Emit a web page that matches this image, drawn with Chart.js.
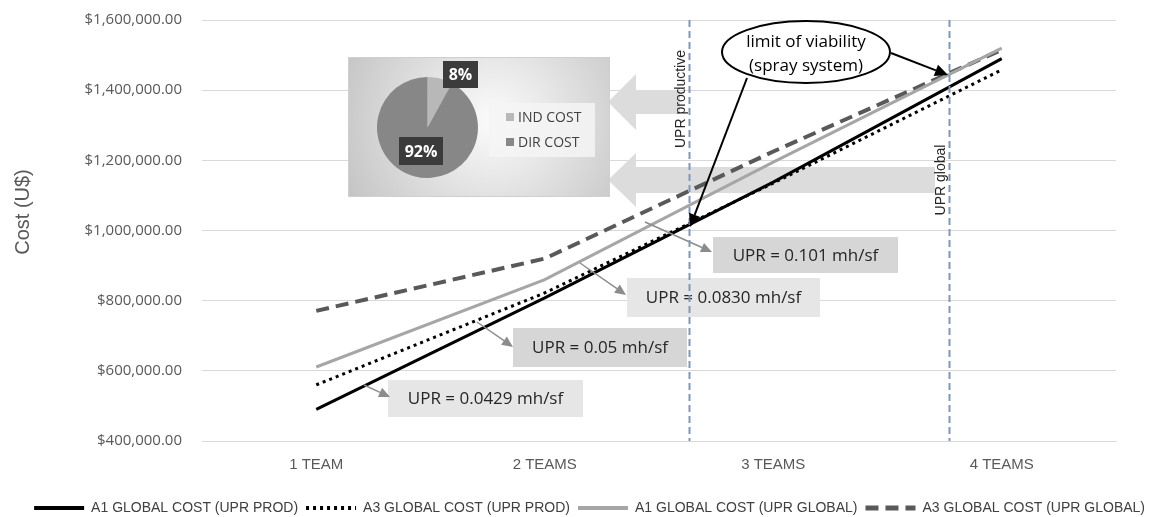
<!DOCTYPE html>
<html>
<head>
<meta charset="utf-8">
<script src="https://cdn.jsdelivr.net/npm/chart.js@4.4.1/dist/chart.umd.min.js"></script>
<style>
    html, body { margin: 0; padding: 0; background: #fff; }
    #wrap { position: relative; width: 1153px; height: 517px; }
    #mainChart { position: absolute; left: 0; top: 0; }
    #pieChart { position: absolute; left: 348px; top: 57px; }
</style>
</head>
<body>
<div id="wrap">
    <canvas id="mainChart" width="1153" height="517"></canvas>
    <canvas id="pieChart" width="262" height="140"></canvas>
</div>
<script>
// ============================================
// Data
// ============================================

const categories = ['1 TEAM', '2 TEAMS', '3 TEAMS', '4 TEAMS'];
const a1ProdCost = [490000, 808000, 1138000, 1490000];
const a3ProdCost = [560000, 822000, 1135000, 1458000];
const a1GlobalCost = [611000, 860000, 1195000, 1520000];
const a3GlobalCost = [771000, 920000, 1225000, 1515000];
const seriesNames = [
    'A1 GLOBAL COST (UPR PROD)',
    'A3 GLOBAL COST (UPR PROD)',
    'A1 GLOBAL COST (UPR GLOBAL)',
    'A3 GLOBAL COST (UPR GLOBAL)'
];
const yTicks = [400000, 600000, 800000, 1000000, 1200000, 1400000, 1600000];
const yTitle = 'Cost (U$)';

// vertical reference lines, as positions on the category axis
const uprLinePositions = [1.63, 2.77];
const uprLineNames = ['UPR productive', 'UPR global'];
const uprLabels = ['UPR = 0.0429 mh/sf', 'UPR = 0.05 mh/sf', 'UPR = 0.0830 mh/sf', 'UPR = 0.101 mh/sf'];

// inset pie
const pieLabels = ['IND COST', 'DIR COST'];
const pieValues = [8, 92];

// ============================================
// Drawing helpers
// ============================================

function drawArrow(ctx, x1, y1, x2, y2, color, width, headLen, headHalf) {
    const ang = Math.atan2(y2 - y1, x2 - x1);
    const bx = x2 - Math.cos(ang) * headLen;
    const by = y2 - Math.sin(ang) * headLen;
    ctx.save();
    ctx.strokeStyle = color;
    ctx.fillStyle = color;
    ctx.lineWidth = width;
    ctx.setLineDash([]);
    ctx.beginPath();
    ctx.moveTo(x1, y1);
    ctx.lineTo(bx, by);
    ctx.stroke();
    ctx.beginPath();
    ctx.moveTo(x2, y2);
    ctx.lineTo(bx + Math.sin(ang) * headHalf, by - Math.cos(ang) * headHalf);
    ctx.lineTo(bx - Math.sin(ang) * headHalf, by + Math.cos(ang) * headHalf);
    ctx.closePath();
    ctx.fill();
    ctx.restore();
}

function drawBlockArrow(ctx, tipX, cy, headLen, headHalf, shaftHalf, endX) {
    ctx.save();
    ctx.fillStyle = '#dcdcdc';
    ctx.beginPath();
    ctx.moveTo(tipX, cy);
    ctx.lineTo(tipX + headLen, cy - headHalf);
    ctx.lineTo(tipX + headLen, cy - shaftHalf);
    ctx.lineTo(endX, cy - shaftHalf);
    ctx.lineTo(endX, cy + shaftHalf);
    ctx.lineTo(tipX + headLen, cy + shaftHalf);
    ctx.lineTo(tipX + headLen, cy + headHalf);
    ctx.closePath();
    ctx.fill();
    ctx.restore();
}

function drawLabelBox(ctx, text, x, y, w, h, fill) {
    ctx.save();
    ctx.fillStyle = fill;
    ctx.fillRect(x, y, w, h);
    ctx.fillStyle = '#262626';
    ctx.font = '17px "Open Sans"';
    ctx.textAlign = 'center';
    ctx.textBaseline = 'middle';
    ctx.fillText(text, x + w / 2, y + h / 2 + 1);
    ctx.restore();
}

// ============================================
// Annotation plugin (main chart)
// ============================================

const annotationPlugin = {
    id: 'annotations',
    beforeDatasetsDraw(chart) {
        const ctx = chart.ctx;
        drawBlockArrow(ctx, 608, 102, 28, 28, 12, 680);
        drawBlockArrow(ctx, 608, 180, 28, 27, 13, 935);

        // axis title
        ctx.save();
        ctx.fillStyle = '#595959';
        ctx.font = '20px "Liberation Sans"';
        ctx.textAlign = 'center';
        ctx.textBaseline = 'middle';
        ctx.translate(23, 212);
        ctx.rotate(-Math.PI / 2);
        ctx.fillText(yTitle, 0, 0);
        ctx.restore();
    },
    afterDatasetsDraw(chart) {
        const ctx = chart.ctx;
        const xScale = chart.scales.x;
        const area = chart.chartArea;

        // UPR label boxes and their pointers
        const boxes = [
            { x: 388, y: 380, w: 195, h: 37, fill: '#e6e6e6', from: [364, 385], to: [390, 397] },
            { x: 513, y: 328, w: 174, h: 39, fill: '#d6d6d6', from: [477, 322], to: [513, 347] },
            { x: 627, y: 278, w: 193, h: 39, fill: '#e6e6e6', from: [580, 263], to: [626, 295] },
            { x: 713, y: 237, w: 185, h: 36, fill: '#d6d6d6', from: [645, 222], to: [712, 252] }
        ];
        boxes.forEach((b, i) => {
            drawLabelBox(ctx, uprLabels[i], b.x, b.y, b.w, b.h, b.fill);
            drawArrow(ctx, b.from[0], b.from[1], b.to[0], b.to[1], '#8c8c8c', 1.5, 11, 5);
        });

        // vertical UPR lines
        uprLinePositions.forEach((pos, i) => {
            const px = Math.round(xScale.getPixelForValue(pos)) + 0.5;
            ctx.save();
            ctx.strokeStyle = '#7f97bb';
            ctx.lineWidth = 2;
            ctx.setLineDash([7, 4]);
            ctx.beginPath();
            ctx.moveTo(px, area.top);
            ctx.lineTo(px, area.bottom);
            ctx.stroke();
            ctx.restore();

            ctx.save();
            ctx.fillStyle = '#262626';
            ctx.font = '14px "Liberation Sans"';
            ctx.textAlign = 'center';
            ctx.textBaseline = 'middle';
            ctx.translate(px - 8, i === 0 ? 99 : 180);
            ctx.rotate(-Math.PI / 2);
            ctx.fillText(uprLineNames[i], 0, 0);
            ctx.restore();
        });

        // "limit of viability" callout
        ctx.save();
        ctx.beginPath();
        ctx.ellipse(806, 52, 84, 31, 0, 0, Math.PI * 2);
        ctx.fillStyle = '#ffffff';
        ctx.fill();
        ctx.lineWidth = 2;
        ctx.strokeStyle = '#000';
        ctx.stroke();
        ctx.fillStyle = '#000';
        ctx.font = '17px "Open Sans"';
        ctx.textAlign = 'center';
        ctx.textBaseline = 'middle';
        ctx.fillText('limit of viability', 806, 42);
        ctx.fillText('(spray system)', 806, 66);
        ctx.restore();
        drawArrow(ctx, 747, 78, 690, 227, '#000', 2, 13, 6);
        drawArrow(ctx, 891, 53, 948, 75, '#000', 2, 13, 6);
    }
};

// ============================================
// Main line chart
// ============================================

function formatMoney(value) {
    return '$' + value.toLocaleString('en-US', { minimumFractionDigits: 2, maximumFractionDigits: 2 });
}

new Chart(document.getElementById('mainChart').getContext('2d'), {
    type: 'line',
    data: {
        labels: categories,
        datasets: [{
            label: seriesNames[0],
            data: a1ProdCost,
            borderColor: '#000000',
            backgroundColor: '#000000',
            borderWidth: 3
        }, {
            label: seriesNames[1],
            data: a3ProdCost,
            borderColor: '#000000',
            backgroundColor: '#000000',
            borderWidth: 3,
            borderDash: [3, 4]
        }, {
            label: seriesNames[2],
            data: a1GlobalCost,
            borderColor: '#a6a6a6',
            backgroundColor: '#a6a6a6',
            borderWidth: 3
        }, {
            label: seriesNames[3],
            data: a3GlobalCost,
            borderColor: '#595959',
            backgroundColor: '#595959',
            borderWidth: 4,
            borderDash: [13, 7]
        }]
    },
    options: {
        responsive: false,
        animation: false,
        devicePixelRatio: 1,
        elements: {
            point: { radius: 0, hoverRadius: 0 },
            line: { tension: 0, fill: false }
        },
        layout: { padding: { top: 20, right: 0, left: 0, bottom: -8 } },
        scales: {
            x: {
                offset: true,
                grid: { display: false },
                border: { display: true, color: '#d9d9d9' },
                ticks: {
                    color: '#595959',
                    font: { family: '"Liberation Sans"', size: 15 },
                    padding: 7
                },
                afterFit(scale) { scale.height = 52; }
            },
            y: {
                min: 400000,
                max: 1600000,
                afterBuildTicks(scale) { scale.ticks = yTicks.map(v => ({ value: v })); },
                grid: { color: '#d9d9d9', drawTicks: true, tickLength: 10, tickColor: 'rgba(0,0,0,0)' },
                border: { display: false },
                ticks: {
                    color: '#595959',
                    padding: 10,
                    font: { family: '"Open Sans"', size: 15 },
                    callback: function(value) { return formatMoney(value); }
                },
                afterFit(scale) { scale.width = 202; }
            },
            // empty right gutter so the plot ends where the reference does
            gutter: {
                position: 'right',
                display: true,
                grid: { display: false },
                border: { display: false },
                ticks: { display: false },
                afterFit(scale) { scale.width = 37; }
            }
        },
        plugins: {
            legend: {
                display: true,
                position: 'bottom',
                align: 'end',
                labels: {
                    usePointStyle: true,
                    pointStyleWidth: 50,
                    padding: 8,
                    font: { family: '"Liberation Sans"', size: 14 },
                    generateLabels(chart) {
                        return chart.data.datasets.map((ds, i) => ({
                            text: ds.label,
                            fillStyle: ds.borderColor,
                            strokeStyle: ds.borderColor,
                            lineWidth: ds.borderWidth + 1,
                            lineDash: ds.borderDash || [],
                            lineCap: 'butt',
                            pointStyle: 'line',
                            fontColor: '#404040',
                            hidden: false,
                            datasetIndex: i
                        }));
                    }
                }
            },
            tooltip: { enabled: false }
        }
    },
    plugins: [annotationPlugin]
});

// ============================================
// Inset pie chart
// ============================================

const insetPlugin = {
    id: 'insetDecor',
    beforeDraw(chart) {
        const ctx = chart.ctx;
        const w = chart.width, h = chart.height;
        const g = ctx.createRadialGradient(w * 0.55, h * 0.45, 10, w * 0.55, h * 0.45, w * 0.62);
        g.addColorStop(0, '#f8f8f8');
        g.addColorStop(1, '#c4c4c4');
        ctx.save();
        ctx.fillStyle = g;
        ctx.fillRect(0, 0, w, h);
        ctx.strokeStyle = '#cfcfcf';
        ctx.lineWidth = 1;
        ctx.strokeRect(0.5, 0.5, w - 1, h - 1);
        ctx.restore();
    },
    afterDraw(chart) {
        const ctx = chart.ctx;
        const colors = chart.data.datasets[0].backgroundColor;

        // percentage tags
        const tags = [
            { x: 95, y: 4, w: 35, h: 27 },
            { x: 51, y: 80, w: 44, h: 28 }
        ];
        const total = pieValues.reduce((a, b) => a + b, 0);
        ctx.save();
        tags.forEach((t, i) => {
            ctx.fillStyle = '#3b3b3b';
            ctx.fillRect(t.x, t.y, t.w, t.h);
            ctx.fillStyle = '#ffffff';
            ctx.font = 'bold 16px "Open Sans"';
            ctx.textAlign = 'center';
            ctx.textBaseline = 'middle';
            ctx.fillText(Math.round(pieValues[i] / total * 100) + '%', t.x + t.w / 2, t.y + t.h / 2 + 1);
        });

        // legend
        ctx.fillStyle = 'rgba(245,245,245,0.85)';
        ctx.fillRect(141, 46, 106, 54);
        ctx.font = '14px "Open Sans"';
        ctx.textAlign = 'left';
        ctx.textBaseline = 'middle';
        pieLabels.forEach((lab, i) => {
            const y = 60 + i * 25;
            ctx.fillStyle = colors[i];
            ctx.fillRect(158, y - 4, 8, 8);
            ctx.fillStyle = '#404040';
            ctx.fillText(lab, 170, y + 1);
        });
        ctx.restore();
    }
};

new Chart(document.getElementById('pieChart').getContext('2d'), {
    type: 'pie',
    data: {
        labels: pieLabels,
        datasets: [{
            data: pieValues,
            backgroundColor: ['#b8b8b8', '#878787'],
            borderWidth: 0,
            hoverOffset: 0
        }]
    },
    options: {
        responsive: false,
        animation: false,
        devicePixelRatio: 1,
        layout: { padding: { left: 29, right: 132, top: 20, bottom: 19 } },
        plugins: {
            legend: { display: false },
            tooltip: { enabled: false }
        }
    },
    plugins: [insetPlugin]
});
</script>
</body>
</html>
